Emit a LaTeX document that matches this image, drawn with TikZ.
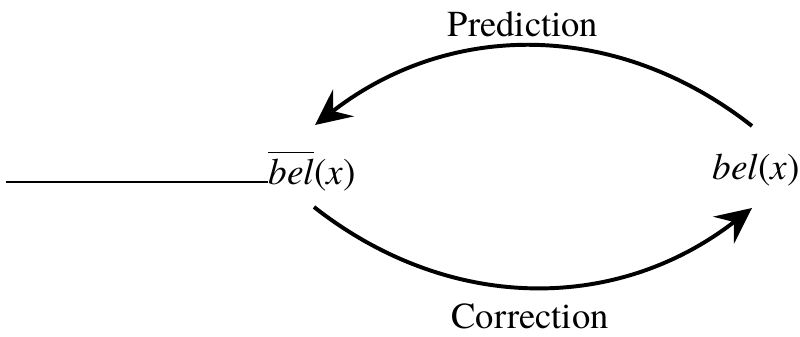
\documentclass[tikz,border=0pt]{standalone}
\usepackage{fontspec}
\setmainfont{TeX Gyre Termes}
\usetikzlibrary{arrows.meta}

\tikzset{
  belief/.style={font=\fontsize{26.5}{31}\selectfont, inner sep=0pt, anchor=base},
  caption/.style={font=\fontsize{26}{31}\selectfont, inner sep=0pt, anchor=base},
  cycle/.style={line width=2.8pt, -{Stealth[length=9mm,width=8.5mm,inset=3.3mm]}},
}

\begin{document}
\begin{tikzpicture}[x=0.025cm,y=-0.025cm]
  \useasboundingbox (0,0) rectangle (800,336);
  % beliefs
  \node[belief] (predbel) at (312,184) {$\overline{\hbox{\itshape bel}\rule{0pt}{21pt}}$(\textit{x})};
  \node[belief] (bel) at (756,179) {\textit{bel}(\textit{x})};
  % labels
  \node[caption] (prediction) at (523,36) {Prediction};
  \node[caption] (correction) at (530,328) {Correction};
  % incoming line
  \coordinate (inflow) at (6,182);
  \draw[line width=1.2pt] (inflow) -- (inflow -| predbel.west);
  % cycle arrows
  \draw[cycle] ([shift={(-4,-53)}]bel.base) to[bend right=38] ([shift={(3,-59)}]predbel.base);
  \draw[cycle] ([shift={(2,23)}]predbel.base) to[bend right=38] ([shift={(-4,29)}]bel.base);
\end{tikzpicture}
\end{document}
